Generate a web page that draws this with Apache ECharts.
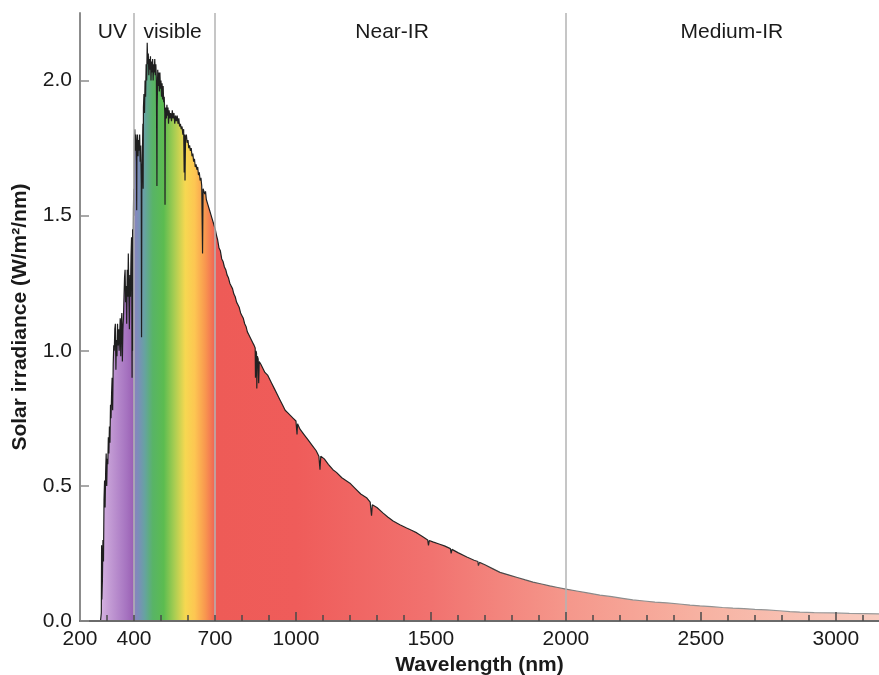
<!DOCTYPE html>
<html>
<head>
<meta charset="utf-8">
<script src="https://cdn.jsdelivr.net/npm/echarts@6/dist/echarts.min.js"></script>
<style>
html,body{margin:0;padding:0;background:#ffffff;}
#chart{width:879px;height:675px;}
</style>
</head>
<body>
<div id="chart"></div>
<script>
// ---- data ----
const uvWavelength = [276,279,280,281,283,285,287,289,291,293,295,297,299,301,303,305,307,309,311,313,315,317,319,321,323,325,327,329,331,333,335,337,339,341,343,345,347,349,351,353,355,357,359,361,363,365,367,369,371,373,375,377,379,381,383,385,387,389,391,393,394,395,396,397,398,399];
const uvIrradiance = [0,0.03,0.28,0.08,0.15,0.30,0.22,0.45,0.52,0.42,0.55,0.62,0.50,0.60,0.58,0.68,0.62,0.72,0.66,0.80,0.75,0.84,0.90,0.78,0.95,1.02,1.00,1.08,1.10,0.93,1.04,0.98,1.10,1.02,1.08,1.00,1.06,1.12,0.98,1.10,1.14,0.96,1.08,1.12,1.20,1.27,1.30,1.18,1.24,1.10,1.30,1.20,1.36,1.22,1.08,1.28,1.20,1.35,1.42,0.90,1.30,1.45,1.00,1.38,1.52,1.60];

const visWavelength = [400,401,403,405,407,409,410,411,413,415,417,419,421,423,425,427,428,429,431,433,434,435,437,439,441,443,445,447,449,451,453,455,457,459,461,463,465,467,469,471,473,475,477,479,481,483,485,486,488,490,492,494,496,498,500,502,504,506,508,510,512,514,515,516,518,520,522,524,526,528,530,533,536,539,542,545,548,551,554,557,560,563,566,569,572,575,578,581,584,586,588,589,591,594,597,600,603,606,609,612,615,618,621,624,627,630,633,636,639,642,645,648,651,654,656,659,662,665,668,671,674,677,680,683,686,689,692,695,698];
const visIrradiance = [1.50,1.78,1.82,1.74,1.80,1.70,1.52,1.76,1.80,1.72,1.78,1.74,1.80,1.70,1.76,1.62,1.05,1.60,1.72,1.84,1.60,1.90,1.95,1.88,2.00,1.94,2.06,2.00,2.14,2.06,2.10,2.02,2.08,2.04,2.09,2.00,2.07,2.03,2.08,2.00,2.06,2.03,2.08,2.02,2.06,2.00,1.61,1.90,2.04,1.98,2.03,1.96,2.03,1.97,2.00,1.94,1.99,1.93,1.98,1.92,1.94,1.88,1.54,1.85,1.90,1.86,1.91,1.87,1.90,1.84,1.89,1.86,1.88,1.85,1.89,1.86,1.88,1.84,1.87,1.85,1.87,1.84,1.86,1.83,1.84,1.82,1.83,1.80,1.82,1.66,1.80,1.63,1.79,1.80,1.77,1.78,1.75,1.76,1.74,1.75,1.72,1.73,1.70,1.71,1.68,1.69,1.67,1.68,1.65,1.66,1.63,1.64,1.61,1.36,1.60,1.60,1.58,1.59,1.56,1.56,1.54,1.54,1.52,1.52,1.50,1.50,1.48,1.47,1.46];

const irWavelength = [701,705,710,715,720,725,730,735,740,745,750,755,760,765,770,775,780,785,790,795,800,805,810,815,820,825,830,835,840,845,849,850,852,854,855,857,860,862,864,870,875,880,885,890,895,900,910,920,930,940,950,960,970,980,990,1000,1004,1006,1015,1030,1045,1060,1075,1085,1089,1092,1105,1120,1137,1150,1170,1185,1200,1220,1240,1263,1275,1280,1283,1300,1322,1340,1360,1385,1410,1430,1448,1470,1488,1491,1494,1507,1530,1550,1572,1575,1578,1600,1633,1660,1674,1676,1680,1700,1730,1756,1790,1820,1850,1878,1910,1940,1970,2000,2040,2080,2126,2170,2210,2248,2290,2330,2374,2420,2460,2496,2540,2580,2619,2660,2700,2744,2790,2830,2867,2920,2989,3050,3110,3160];
const irIrradiance = [1.45,1.43,1.41,1.38,1.37,1.34,1.33,1.31,1.30,1.28,1.27,1.25,1.24,1.23,1.21,1.20,1.18,1.17,1.16,1.14,1.13,1.12,1.10,1.09,1.07,1.06,1.05,1.04,1.03,1.02,1.01,0.90,1.00,0.99,0.86,0.98,0.97,0.88,0.96,0.95,0.94,0.93,0.92,0.92,0.91,0.90,0.88,0.86,0.84,0.82,0.80,0.78,0.77,0.76,0.75,0.74,0.69,0.73,0.71,0.69,0.67,0.65,0.63,0.61,0.56,0.61,0.60,0.58,0.56,0.55,0.53,0.52,0.51,0.49,0.47,0.455,0.44,0.39,0.43,0.42,0.40,0.385,0.37,0.356,0.344,0.335,0.326,0.312,0.300,0.280,0.298,0.293,0.285,0.278,0.268,0.250,0.265,0.253,0.237,0.225,0.220,0.205,0.217,0.208,0.193,0.180,0.170,0.161,0.152,0.144,0.137,0.130,0.124,0.118,0.111,0.104,0.096,0.090,0.084,0.078,0.074,0.070,0.067,0.063,0.059,0.056,0.053,0.050,0.048,0.046,0.043,0.041,0.038,0.035,0.033,0.031,0.030,0.028,0.027,0.026];

const xTickLabels = [200,400,700,1000,1500,2000,2500,3000];
const xMajorTicks = [1000,1500,2000,2500,3000];
const yTickLabels = [0,0.5,1.0,1.5,2.0];
const regionNames = ['UV','visible','Near-IR','Medium-IR'];
const regionCenters = [320,543,1356,2615];
const regionBoundaries = [400,700,2000];

// spectral colour stops (wavelength -> colour)
const stopNm =    [276,      300,      370,      396,      401,      415,      440,      470,      510,      550,      590,      625,      665,      690,      705,      1000,     1500,     2000,     2500,     3000,     3160];
const stopColor = ['#d6b3e2','#c8a2d8','#a775c1','#9b62b5','#8a84bd','#7c8dba','#66a3a0','#58b466','#5cbc50','#a8cd52','#f6d851','#fdc652','#f8964f','#f27253','#ee5b57','#ef5c5a','#f1726f','#f5978b','#f7b2a2','#f8c7ba','#f8cdc1'];

// ---- build ----
const wavelength = uvWavelength.concat(visWavelength, irWavelength);
const irradiance = uvIrradiance.concat(visIrradiance, irIrradiance);
const seriesData = wavelength.map((w, i) => [w, irradiance[i]]);

const xMin = 200, xMax = 3160;
const w0 = wavelength[0], wN = wavelength[wavelength.length - 1];
const areaStops = stopNm.map((nm, i) => ({offset: Math.min(1, Math.max(0, (nm - w0) / (wN - w0))), color: stopColor[i]}));
const lineStops = [
  {offset: 0, color: '#1e1e1e'},
  {offset: (1600 - w0) / (wN - w0), color: '#262626'},
  {offset: (2100 - w0) / (wN - w0), color: '#8c8c8c'},
  {offset: 1, color: '#9a9a9a'}
];

const minorTicks = [];
for (let v = 300; v <= 3100; v += 100) minorTicks.push(v);

const FONT = '"Liberation Sans", Arial, Helvetica, sans-serif';
const FS = 21;
const chart = echarts.init(document.getElementById('chart'), null, {renderer: 'canvas'});

chart.setOption({
  animation: false,
  backgroundColor: '#ffffff',
  textStyle: {fontFamily: FONT},
  grid: {left: 80, right: 0, top: 13, bottom: 54, containLabel: false, outerBoundsMode: 'none'},
  xAxis: [{
    type: 'value', min: xMin, max: xMax, position: 'bottom', z: 10,
    axisLine: {show: true, onZero: false, lineStyle: {color: '#6a6a6a', width: 2}},
    axisTick: {show: true, inside: true, length: 6, customValues: minorTicks, lineStyle: {color: '#4a4a4a', width: 1.5}},
    axisLabel: {show: true, customValues: xTickLabels, formatter: v => String(v), fontSize: FS, color: '#1a1a1a', margin: 8, fontFamily: FONT},
    splitLine: {show: false},
    name: 'Wavelength (nm)', nameLocation: 'middle', nameGap: 33,
    nameTextStyle: {fontSize: FS, fontWeight: 'bold', color: '#1a1a1a', fontFamily: FONT}
  }, {
    type: 'value', min: xMin, max: xMax, position: 'bottom', z: 10,
    axisLine: {show: false},
    axisTick: {show: true, inside: true, length: 9, customValues: xMajorTicks, lineStyle: {color: '#4a4a4a', width: 1.5}},
    axisLabel: {show: false},
    splitLine: {show: false}
  }],
  yAxis: {
    type: 'value', min: 0, max: 2.25, z: 10,
    axisLine: {show: true, lineStyle: {color: '#8c8c8c', width: 2}},
    axisTick: {show: true, inside: true, length: 9, customValues: yTickLabels, lineStyle: {color: '#8c8c8c', width: 1.5}},
    axisLabel: {show: true, customValues: yTickLabels, formatter: v => v.toFixed(1), fontSize: FS, color: '#1a1a1a', margin: 8, fontFamily: FONT},
    splitLine: {show: false},
    name: 'Solar irradiance (W/m²/nm)', nameLocation: 'middle', nameGap: 49,
    nameTextStyle: {fontSize: FS, fontWeight: 'bold', color: '#1a1a1a', fontFamily: FONT}
  },
  series: [{
    type: 'line',
    data: seriesData,
    xAxisIndex: 0, yAxisIndex: 0,
    showSymbol: false, symbol: 'none',
    smooth: false,
    lineStyle: {width: 1.2, color: new echarts.graphic.LinearGradient(0, 0, 1, 0, lineStops)},
    areaStyle: {opacity: 1, color: new echarts.graphic.LinearGradient(0, 0, 1, 0, areaStops)},
    emphasis: {disabled: true},
    silent: true,
    z: 2,
    markLine: {
      silent: true,
      symbol: ['none', 'none'],
      label: {show: false},
      lineStyle: {color: '#b3b3b3', width: 1.5, type: 'solid'},
      data: regionBoundaries.map(v => ({xAxis: v}))
    },
    markPoint: {
      silent: true,
      symbol: 'circle', symbolSize: 1,
      itemStyle: {color: 'rgba(0,0,0,0)'},
      label: {show: true, position: 'inside', formatter: p => p.name, fontSize: FS, color: '#1a1a1a', fontFamily: FONT},
      data: regionNames.map((n, i) => ({name: n, coord: [regionCenters[i], 2.18]}))
    }
  }]
});
</script>
</body>
</html>
